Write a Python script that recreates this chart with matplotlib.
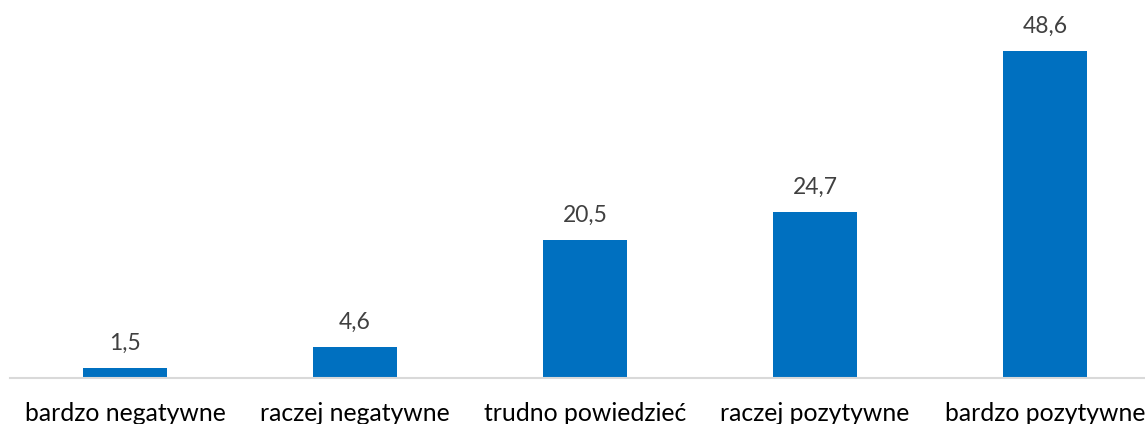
import matplotlib
matplotlib.use("Agg")
import matplotlib.pyplot as plt

categories = ["bardzo negatywne", "raczej negatywne", "trudno powiedzieć", "raczej pozytywne", "bardzo pozytywne"]
values = [1.5, 4.6, 20.5, 24.7, 48.6]
value_labels = ["1,5", "4,6", "20,5", "24,7", "48,6"]

plt.rcParams['font.family'] = ['Lato', 'DejaVu Sans']

W, H = 1145, 424
fig = plt.figure(figsize=(W/100, H/100), dpi=100)
left = 10 / W
bottom = (H - 378) / H
ax = fig.add_axes([left, bottom, 1 - left, 1 - bottom])

x = list(range(len(categories)))
ax.bar(x, values, width=84/230, color="#0070C0", zorder=2)
ax.set_xlim(-0.5, (1145 - 125) / 230)
ax.set_ylim(0, 378 / ((378 - 51) / 48.6))

for xi, v, lab in zip(x, values, value_labels):
    ax.annotate(lab, (xi, v), xytext=(0, 10), textcoords="offset points",
                ha="center", va="bottom", fontsize=16.5, color="#404040")

for s in ["top", "left", "right"]:
    ax.spines[s].set_visible(False)
ax.spines["bottom"].set_color("#D9D9D9")
ax.spines["bottom"].set_linewidth(1.5)
ax.set_yticks([])
ax.set_xticks(x)
ax.set_xticklabels(categories, fontsize=17.8, color="black")
ax.tick_params(axis="x", length=0, pad=17)

fig.savefig("out.png", dpi=100)
